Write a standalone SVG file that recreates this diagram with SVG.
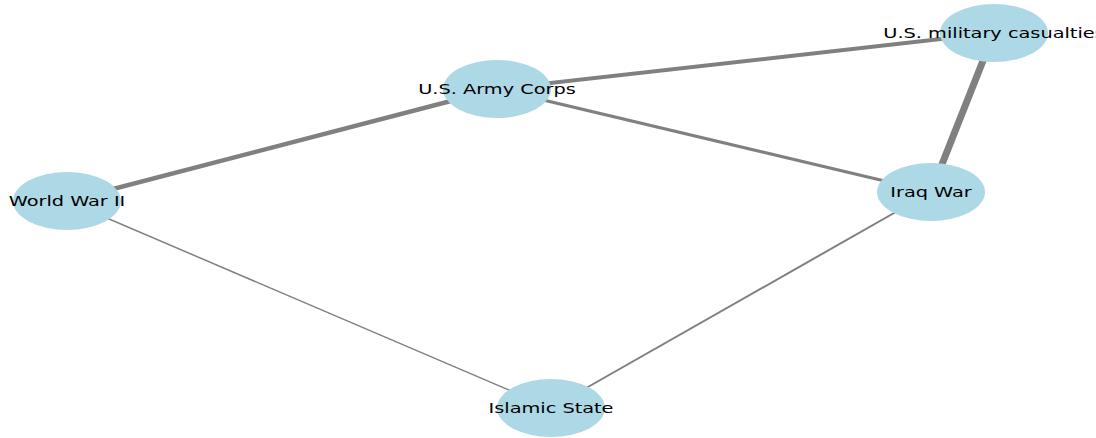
<svg xmlns="http://www.w3.org/2000/svg" width="1096" height="438" viewBox="0 0 1096 438">
<style>
.edge{stroke:#808080;stroke-linecap:butt;fill:none}
.node ellipse{fill:#add8e6}
.node text{font-family:"DejaVu Sans",sans-serif;font-size:14px;fill:#000;text-anchor:middle}
</style>
<rect width="1096" height="438" fill="#fff"/>
<g id="edges">
<line class="edge" x1="497" y1="89" x2="994" y2="33" stroke-width="4"/>
<line class="edge" x1="994" y1="33" x2="931" y2="192" stroke-width="7"/>
<line class="edge" x1="67" y1="201" x2="497" y2="89" stroke-width="4.5"/>
<line class="edge" x1="497" y1="89" x2="931" y2="192" stroke-width="3"/>
<line class="edge" x1="67" y1="201" x2="551" y2="408" stroke-width="1.5"/>
<line class="edge" x1="931" y1="192" x2="551" y2="408" stroke-width="2"/>
</g>
<g id="node-us-military-casualties" class="node">
<ellipse cx="994" cy="33" rx="54" ry="29"/>
<text transform="translate(994,38) scale(1.38,1)">U.S. military casualties</text>
</g>
<g id="node-us-army-corps" class="node">
<ellipse cx="497" cy="89" rx="54" ry="29"/>
<text transform="translate(497,94) scale(1.38,1)">U.S. Army Corps</text>
</g>
<g id="node-world-war-ii" class="node">
<ellipse cx="67" cy="201" rx="54" ry="29"/>
<text transform="translate(67,206) scale(1.38,1)">World War II</text>
</g>
<g id="node-iraq-war" class="node">
<ellipse cx="931" cy="192" rx="54" ry="29"/>
<text transform="translate(931,197) scale(1.38,1)">Iraq War</text>
</g>
<g id="node-islamic-state" class="node">
<ellipse cx="551" cy="408" rx="54" ry="29"/>
<text transform="translate(551,413) scale(1.38,1)">Islamic State</text>
</g>
</svg>
